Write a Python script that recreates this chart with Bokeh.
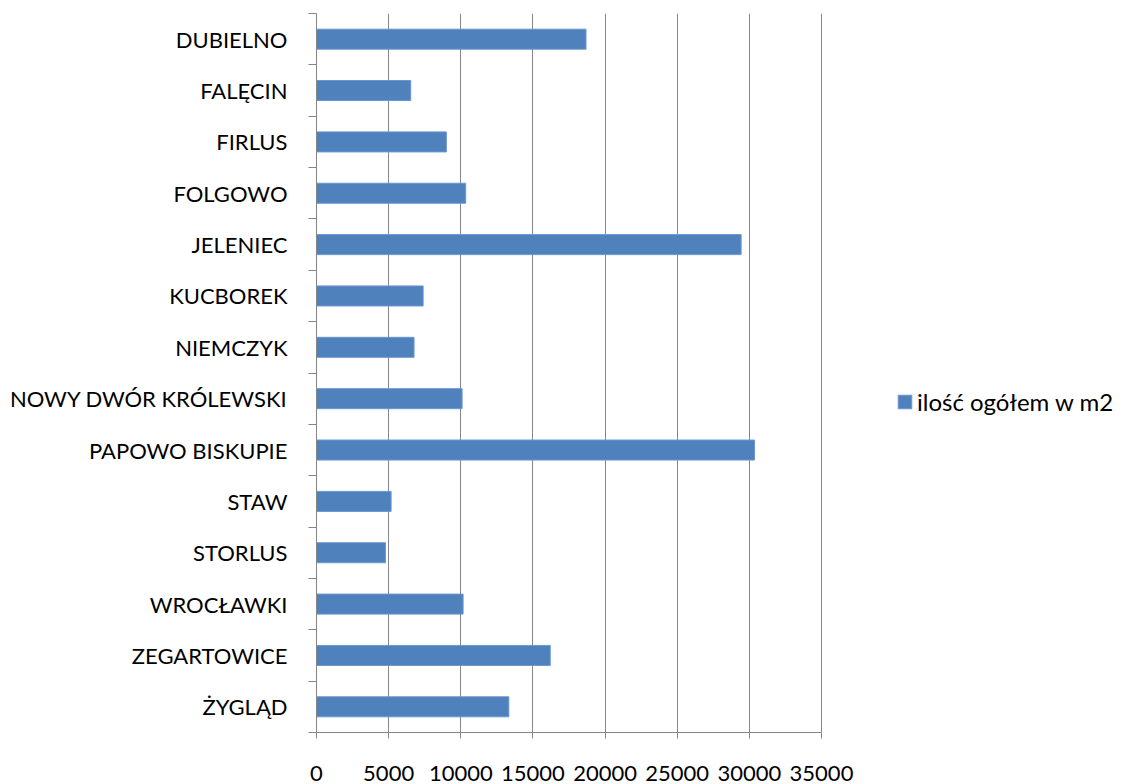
from bokeh.plotting import figure
from bokeh.models import Range1d, FixedTicker, Legend, LegendItem
from bokeh.embed import file_html
from bokeh.resources import INLINE

categories = ["DUBIELNO", "FALĘCIN", "FIRLUS", "FOLGOWO", "JELENIEC", "KUCBOREK",
              "NIEMCZYK", "NOWY DWÓR KRÓLEWSKI", "PAPOWO BISKUPIE", "STAW",
              "STORLUS", "WROCŁAWKI", "ZEGARTOWICE", "ŻYGLĄD"]
values = [18680, 6530, 9000, 10340, 29430, 7390, 6760, 10090, 30360, 5170,
          4780, 10160, 16200, 13330]
x_ticks = [0, 5000, 10000, 15000, 20000, 25000, 30000, 35000]
series_name = "ilość ogółem w m2"

n = len(categories)
centers = [n - i - 0.5 for i in range(n)]
boundaries = list(range(n + 1))

FONT = "Lato"
GRAY = "#868686"
BLUE = "#4F81BD"

# layout (pixels)
W, H = 1122, 784
LEFT, TOP, BOTTOM = 316, 13, 52
AXIS_PX = 505  # pixel length of the 0..35000 axis
frame_w = W - LEFT
x_max = x_ticks[-1]
x_end = x_max * frame_w / AXIS_PX  # extra blank room on the right for the legend

p = figure(width=W, height=H, output_backend="svg", toolbar_location=None,
           x_range=Range1d(0, x_end), y_range=Range1d(0, n),
           min_border_left=LEFT, min_border_right=0, min_border_top=TOP,
           min_border_bottom=BOTTOM)
p.outline_line_color = None

r = p.hbar(y=centers, left=0, right=values, height=0.39,
           fill_color=BLUE, line_color="#6b97cf", line_width=1)

# x axis
xa = p.xaxis[0]
xa.bounds = (0, x_max)
xa.ticker = FixedTicker(ticks=x_ticks, minor_ticks=[])
xa.axis_line_color = GRAY
xa.major_tick_line_color = GRAY
xa.major_tick_out = 6
xa.major_tick_in = 0
xa.minor_tick_line_color = None
xa.major_label_standoff = 27
xa.major_label_text_font = FONT
xa.major_label_text_font_size = "22px"
xa.major_label_text_color = "black"

# y axis
ya = p.yaxis[0]
ya.ticker = FixedTicker(ticks=centers, minor_ticks=boundaries)
ya.major_label_overrides = {c: name for c, name in zip(centers, categories)}
ya.axis_line_color = GRAY
ya.major_tick_line_color = None
ya.major_tick_out = 0
ya.major_tick_in = 0
ya.minor_tick_line_color = GRAY
ya.minor_tick_out = 8
ya.minor_tick_in = 0
ya.major_label_standoff = 21
ya.major_label_text_font = FONT
ya.major_label_text_font_size = "22px"
ya.major_label_text_color = "black"

p.xgrid.ticker = FixedTicker(ticks=x_ticks)
p.xgrid.grid_line_color = GRAY
p.xgrid.grid_line_width = 1
p.ygrid.grid_line_color = None

legend = Legend(items=[LegendItem(label=series_name, renderers=[r])],
                location=(580, 316), orientation="vertical",
                border_line_color=None, background_fill_alpha=0,
                glyph_width=17, glyph_height=17, label_standoff=4,
                padding=0, margin=0, spacing=0,
                label_text_font=FONT, label_text_font_size="24px",
                label_text_color="black")
p.add_layout(legend, "center")

open("out.html", "w").write(file_html(p, INLINE))
